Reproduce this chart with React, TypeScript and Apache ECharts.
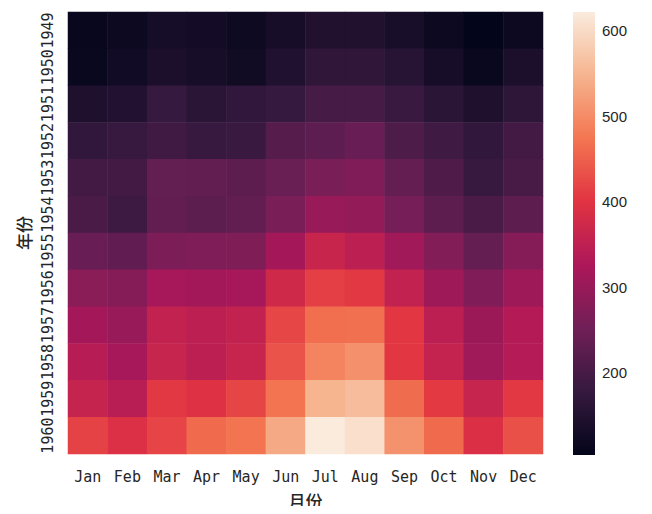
import React, { useEffect, useRef } from "react";
import * as echarts from "echarts";

const months = ["Jan", "Feb", "Mar", "Apr", "May", "Jun", "Jul", "Aug", "Sep", "Oct", "Nov", "Dec"];
const years = ["1949", "1950", "1951", "1952", "1953", "1954", "1955", "1956", "1957", "1958", "1959", "1960"];
const passengers: number[][] = [
  [112, 118, 132, 129, 121, 135, 148, 148, 136, 119, 104, 118],
  [115, 126, 141, 135, 125, 149, 170, 170, 158, 133, 114, 140],
  [145, 150, 178, 163, 172, 178, 199, 199, 184, 162, 146, 166],
  [171, 180, 193, 181, 183, 218, 230, 242, 209, 191, 172, 194],
  [196, 196, 236, 235, 229, 243, 264, 272, 237, 211, 180, 201],
  [204, 188, 235, 227, 234, 264, 302, 293, 259, 229, 203, 229],
  [242, 233, 267, 269, 270, 315, 364, 347, 312, 274, 237, 278],
  [284, 277, 317, 313, 318, 374, 413, 405, 355, 306, 271, 306],
  [315, 301, 356, 348, 355, 422, 465, 467, 404, 347, 305, 336],
  [340, 318, 362, 348, 363, 435, 491, 505, 404, 359, 310, 337],
  [360, 342, 406, 396, 420, 472, 548, 559, 463, 407, 362, 405],
  [417, 391, 419, 461, 472, 535, 622, 606, 508, 461, 390, 432],
];
const colorTicks = [200, 300, 400, 500, 600];
const rocket = ["#03051A", "#35193e", "#701f57", "#ad1759", "#e13342", "#f37651", "#f6b48f", "#FAEBDD"];

export default function App() {
  const ref = useRef<HTMLDivElement>(null);
  useEffect(() => {
    if (!ref.current) return;
    const chart = echarts.init(ref.current, null, { renderer: "svg" });
    const flat: number[] = passengers.flat();
    const vmin = Math.min(...flat);
    const vmax = Math.max(...flat);
    const data: number[][] = [];
    passengers.forEach((row, yi) => row.forEach((v, xi) => data.push([xi, yi, v])));
    const gradStops = rocket.map((c, i) => ({ offset: i / (rocket.length - 1), color: c }));
    const textColor = "#262626";
    chart.setOption({
      animation: false,
      backgroundColor: "#ffffff",
      grid: [
        { left: 68, top: 12, width: 475, height: 443 },
        { left: 573, top: 12, width: 22, height: 443 },
      ],
      xAxis: [
        {
          type: "category",
          data: months,
          gridIndex: 0,
          axisLine: { show: false },
          axisTick: { show: false },
          splitLine: { show: false },
          axisLabel: { interval: 0, color: textColor, fontFamily: "DejaVu Sans Mono", fontSize: 15, margin: 15 },
          name: "月份",
          nameLocation: "middle",
          nameGap: 38,
          nameTextStyle: { color: textColor, fontFamily: "Noto Sans CJK SC", fontSize: 17, fontWeight: 500 },
        },
        { type: "value", gridIndex: 1, min: 0, max: 1, show: false },
      ],
      yAxis: [
        {
          type: "category",
          data: years,
          inverse: true,
          gridIndex: 0,
          axisLine: { show: false },
          axisTick: { show: false },
          splitLine: { show: false },
          axisLabel: { interval: 0, color: textColor, fontFamily: "DejaVu Sans Mono", fontSize: 15, rotate: 90, margin: 13 },
          name: "年份",
          nameLocation: "middle",
          nameGap: 34,
          nameRotate: 90,
          nameTextStyle: { color: textColor, fontFamily: "Noto Sans CJK SC", fontSize: 17, fontWeight: 500 },
        },
        {
          type: "value",
          gridIndex: 1,
          position: "right",
          min: vmin,
          max: vmax,
          splitLine: { show: false },
          axisLine: { show: false },
          axisTick: { show: true, length: 7, lineStyle: { color: textColor, width: 1.5 }, customValues: colorTicks },
          axisLabel: { color: textColor, fontFamily: "Liberation Sans", fontSize: 15, margin: 7, customValues: colorTicks },
        },
      ],
      visualMap: {
        show: false,
        type: "continuous",
        seriesIndex: 0,
        min: vmin,
        max: vmax,
        inRange: { color: rocket },
      },
      series: [
        {
          type: "heatmap",
          xAxisIndex: 0,
          yAxisIndex: 0,
          data,
          itemStyle: { borderWidth: 0 },
        },
        {
          type: "custom",
          xAxisIndex: 1,
          yAxisIndex: 1,
          encode: { x: 0, y: [1, 2] },
          data: [[0, vmin, vmax]],
          renderItem: (params: any, api: any) => {
            const pTop = api.coord([0, api.value(2)]);
            const pBot = api.coord([1, api.value(1)]);
            return {
              type: "rect",
              shape: { x: pTop[0], y: pTop[1], width: pBot[0] - pTop[0], height: pBot[1] - pTop[1] },
              style: {
                fill: new echarts.graphic.LinearGradient(0, 1, 0, 0, gradStops),
              },
            };
          },
        },
      ],
    });
    return () => chart.dispose();
  }, []);
  return <div ref={ref} style={{ width: 652, height: 514, margin: -8 }} />;
}
